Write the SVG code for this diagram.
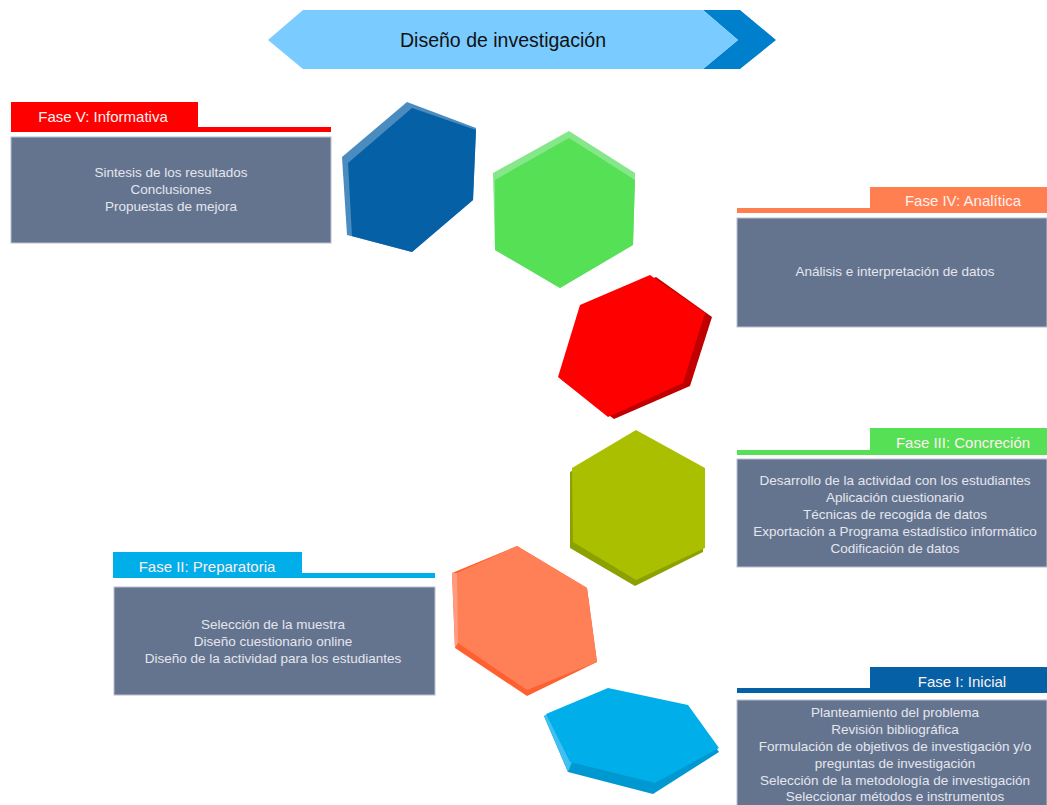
<svg xmlns="http://www.w3.org/2000/svg" width="1047" height="805" viewBox="0 0 1047 805">
<style>
.tab{font-family:"Liberation Sans",Arial,sans-serif;font-size:15px;fill:#FFF0F0;text-anchor:middle}
.body{font-family:"Liberation Sans",Arial,sans-serif;font-size:13.5px;fill:#E4E6EE;text-anchor:middle}
.box{fill:#64748F;stroke:#B8C0CC;stroke-width:1}
.title{font-family:"Liberation Sans",Arial,sans-serif;font-size:19.5px;fill:#111;text-anchor:middle}
</style>
<rect width="1047" height="805" fill="#fff"/>
<g id="title">
<polygon points="703,10 740,10 776,40 740,69 703,69 738,40" fill="#0080CC"/>
<polygon points="303,10 703,10 738,40 703,69 303,69 268,40" fill="#7ACBFF"/>
<text class="title" x="503" y="47">Diseño de investigación</text>
</g>
<g id="hexagons">
<g id="hex5">
<polygon points="407,102 476,128 473,200 412,252 347,235 342,157" fill="#4A8CC0"/>
<polygon points="412,108 476,130 473,200 412,252 352,236 348,163" fill="#0560A5"/>
</g>
<g id="hex4">
<polygon points="569,131 635,173 633,245 560,288 495,250 493,173" fill="#86E68A"/>
<polygon points="569,138 635,180 633,245 560,288 495,250 495,180" fill="#55E055"/>
</g>
<g id="hex3">
<polygon points="656,277 712,317 690,386 614,419 562,380 586,308" fill="#C00000"/>
<polygon points="650,275 705,313 683,383 608,417 558,377 580,305" fill="#FF0000"/>
</g>
<g id="hex2">
<polygon points="636,434 705,472 703,552 635,586 570,548 570,472" fill="#8CA000"/>
<polygon points="636,430 705,468 705,548 636,580 573,542 572,468" fill="#AABF00"/>
</g>
<g id="hex1b">
<polygon points="517,546 587,588 597,662 527,696 455,648 452,573" fill="#FF6030"/>
<polygon points="452,573 458,573 458,643 455,648" fill="#FF9C80"/>
<polygon points="517,546 587,588 597,662 527,690 458,643 457,573" fill="#FF7F57"/>
</g>
<g id="hex1">
<polygon points="608,690 688,706 719,752 653,794 568,772 544,716" fill="#0098D0"/>
<polygon points="544,716 548,714 572,762 568,772" fill="#40C0F0"/>
<polygon points="608,688 688,705 719,748 655,783 570,762 546,714" fill="#00AEEA"/>
</g>
</g>
<g id="fase5">
<rect x="11" y="127" width="320" height="5" fill="#FF0000"/>
<rect x="11" y="102" width="187" height="30" fill="#FF0000"/>
<text class="tab" x="103" y="122">Fase V: Informativa</text>
<rect class="box" x="11" y="137" width="320" height="106"/>
<text class="body" x="171" y="177">Sintesis de los resultados</text>
<text class="body" x="171" y="194">Conclusiones</text>
<text class="body" x="171" y="211">Propuestas de mejora</text>
</g>
<g id="fase4">
<rect x="737" y="208" width="310" height="5" fill="#FF7F50"/>
<rect x="870" y="187" width="177" height="26" fill="#FF7F50"/>
<text class="tab" x="963" y="206">Fase IV: Analítica</text>
<rect class="box" x="737" y="218" width="310" height="109"/>
<text class="body" x="895" y="276">Análisis e interpretación de datos</text>
</g>
<g id="fase3">
<rect x="737" y="450" width="310" height="5" fill="#55E055"/>
<rect x="870" y="428" width="177" height="27" fill="#55E055"/>
<text class="tab" x="963" y="448">Fase III: Concreción</text>
<rect class="box" x="737" y="459" width="310" height="108"/>
<text class="body" x="895" y="485">Desarrollo de la actividad con los estudiantes</text>
<text class="body" x="895" y="502">Aplicación cuestionario</text>
<text class="body" x="895" y="519">Técnicas de recogida de datos</text>
<text class="body" x="895" y="536">Exportación a Programa estadístico informático</text>
<text class="body" x="895" y="553">Codificación de datos</text>
</g>
<g id="fase2">
<rect x="113" y="573" width="322" height="5" fill="#00AEEA"/>
<rect x="113" y="552" width="189" height="26" fill="#00AEEA"/>
<text class="tab" x="207" y="572">Fase II: Preparatoria</text>
<rect class="box" x="114" y="587" width="321" height="108"/>
<text class="body" x="273" y="629">Selección de la muestra</text>
<text class="body" x="273" y="646">Diseño cuestionario online</text>
<text class="body" x="273" y="663">Diseño de la actividad para los estudiantes</text>
</g>
<g id="fase1">
<rect x="737" y="688" width="310" height="5" fill="#0560A5"/>
<rect x="870" y="667" width="177" height="26" fill="#0560A5"/>
<text class="tab" x="962" y="687">Fase I: Inicial</text>
<rect class="box" x="737" y="700" width="310" height="110"/>
<text class="body" x="895" y="717">Planteamiento del problema</text>
<text class="body" x="895" y="734">Revisión bibliográfica</text>
<text class="body" x="895" y="751">Formulación de objetivos de investigación y/o</text>
<text class="body" x="895" y="768">preguntas de investigación</text>
<text class="body" x="895" y="785">Selección de la metodología de investigación</text>
<text class="body" x="895" y="801">Seleccionar métodos e instrumentos</text>
</g>
<g id="connectors"/>
</svg>
